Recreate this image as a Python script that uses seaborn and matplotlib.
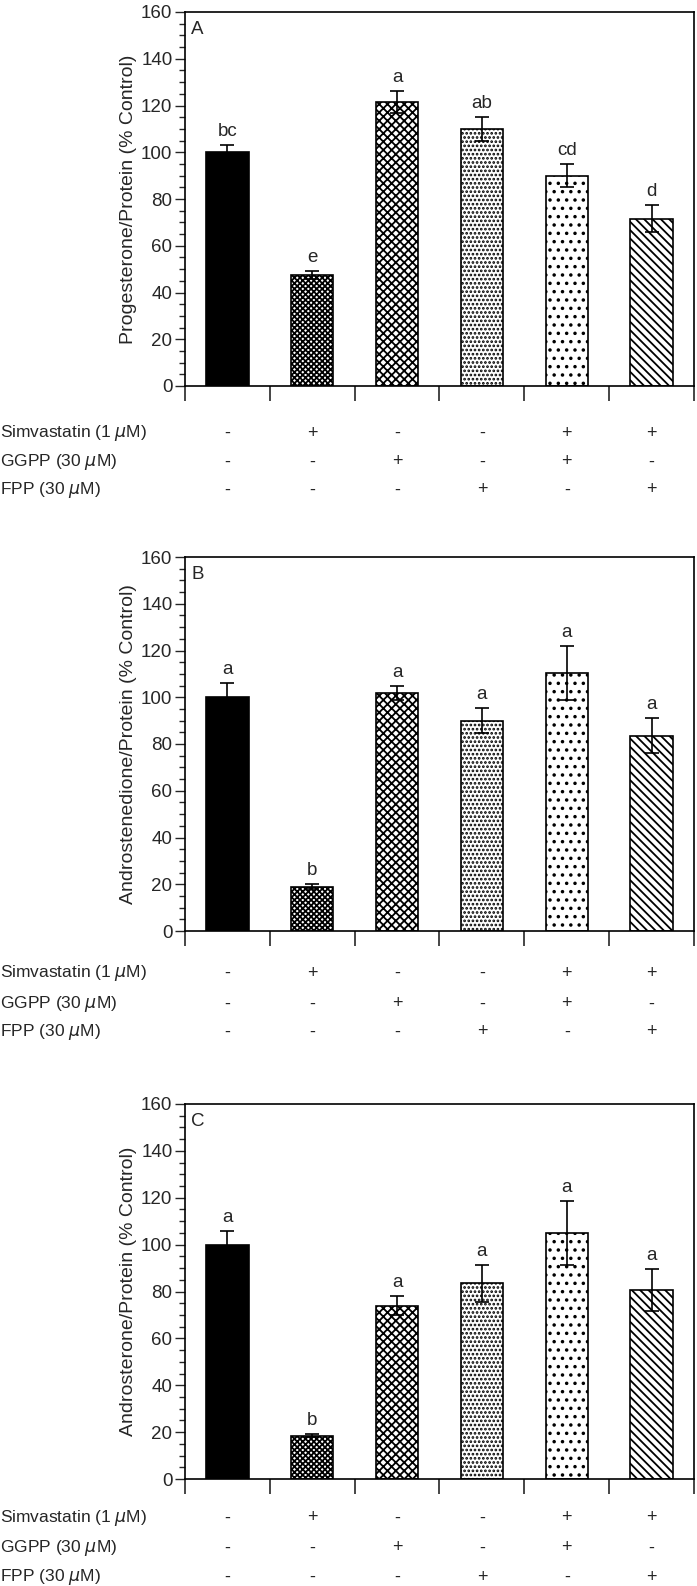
import matplotlib
matplotlib.use("Agg")
import matplotlib.pyplot as plt
import seaborn as sns
import numpy as np
import pandas as pd
from matplotlib.ticker import MultipleLocator, FixedLocator, NullFormatter

sns.set_style("ticks")
plt.rcParams['font.family'] = ['Liberation Sans', 'DejaVu Sans']
plt.rcParams['hatch.linewidth'] = 1.3

groups = ["Control", "Simvastatin", "GGPP", "FPP", "Simva+GGPP", "Simva+FPP"]

prog_mean = [100, 47.5, 121.5, 110, 90, 71.5]
prog_err = [3.3, 1.8, 4.8, 5.0, 4.8, 5.8]
prog_letters = ["bc", "e", "a", "ab", "cd", "d"]

andro_mean = [100, 19, 102, 90, 110.5, 83.5]
andro_err = [6.0, 1.2, 3.0, 5.2, 11.5, 7.5]
andro_letters = ["a", "b", "a", "a", "a", "a"]

androst_mean = [100, 18.5, 74, 83.5, 105, 80.5]
androst_err = [6.0, 0.6, 4.2, 7.8, 13.7, 9.0]
androst_letters = ["a", "b", "a", "a", "a", "a"]

simva_row = ["-", "+", "-", "-", "+", "+"]
ggpp_row = ["-", "-", "+", "-", "+", "-"]
fpp_row = ["-", "-", "-", "+", "-", "+"]
row_labels = ["Simvastatin (1 $\\mu$M)", "GGPP (30 $\\mu$M)", "FPP (30 $\\mu$M)"]

ylabels = ["Progesterone/Protein (% Control)",
           "Androstenedione/Protein (% Control)",
           "Androsterone/Protein (% Control)"]
panel_letters = ["A", "B", "C"]

hatches = [None, "xxxxxx", "xxxx", "....", "..", "\\\\\\\\"]

W, H = 697, 1586
fig = plt.figure(figsize=(W / 100, H / 100), dpi=100)

panels = [
    (prog_mean, prog_err, prog_letters, 12, 386, [47, 76, 104]),
    (andro_mean, andro_err, andro_letters, 557, 931, [42, 73, 101]),
    (androst_mean, androst_err, androst_letters, 1104, 1479, [39, 69, 98]),
]

left_px, right_px = 185, 694
for k, (means, errs, letters, top_px, bot_px, row_offs) in enumerate(panels):
    ax = fig.add_axes([left_px / W, 1 - bot_px / H, (right_px - left_px) / W, (bot_px - top_px) / H])
    df = pd.DataFrame({"group": groups, "value": means})
    sns.barplot(data=df, x="group", y="value", ax=ax, color="white",
                edgecolor="black", linewidth=1.2, width=0.5, saturation=1, errorbar=None)
    for i, p in enumerate(ax.patches):
        if i == 0:
            p.set_facecolor("black")
        else:
            p.set_facecolor("white")
            p.set_hatch(hatches[i])
    xs = np.arange(len(groups))
    ax.errorbar(xs, means, yerr=errs, fmt="none", ecolor="black", elinewidth=1.2,
                capsize=5, capthick=1.2)
    for i, (m, e, l) in enumerate(zip(means, errs, letters)):
        ax.annotate(l, xy=(i, m + e), xytext=(0, 5), textcoords="offset pixels",
                    ha="center", va="bottom", fontsize=13.5)
    ax.set_xlim(-0.5, 5.5)
    ax.set_ylim(0, 160)
    ax.yaxis.set_major_locator(MultipleLocator(20))
    ax.yaxis.set_minor_locator(MultipleLocator(5))
    ax.tick_params(axis="y", which="major", direction="out", length=7, width=1, labelsize=13.5, pad=2)
    ax.tick_params(axis="y", which="minor", direction="out", length=4, width=1)
    ax.xaxis.set_major_locator(FixedLocator(np.arange(-0.5, 6, 1.0)))
    ax.xaxis.set_major_formatter(NullFormatter())
    ax.tick_params(axis="x", which="major", direction="out", length=11, width=1.2)
    for s in ax.spines.values():
        s.set_visible(True)
        s.set_linewidth(1.2)
        s.set_color("black")
    ax.set_xlabel("")
    ax.set_ylabel(ylabels[k], fontsize=14, labelpad=3)
    ax.text(0.012, 0.975, panel_letters[k], transform=ax.transAxes, ha="left", va="top", fontsize=13.5)
    rows = [simva_row, ggpp_row, fpp_row]
    for r, (row, lab, off) in enumerate(zip(rows, row_labels, row_offs)):
        ax.annotate(lab, xy=(0, 0), xycoords=("figure fraction", "axes fraction"),
                    xytext=(0, -off), textcoords="offset pixels", ha="left", va="center",
                    fontsize=12.5, annotation_clip=False)
        for i, sym in enumerate(row):
            ax.annotate(sym, xy=(i, 0), xycoords=("data", "axes fraction"),
                        xytext=(0, -off), textcoords="offset pixels", ha="center", va="center",
                        fontsize=13, annotation_clip=False)

fig.savefig("out.png", dpi=100)
